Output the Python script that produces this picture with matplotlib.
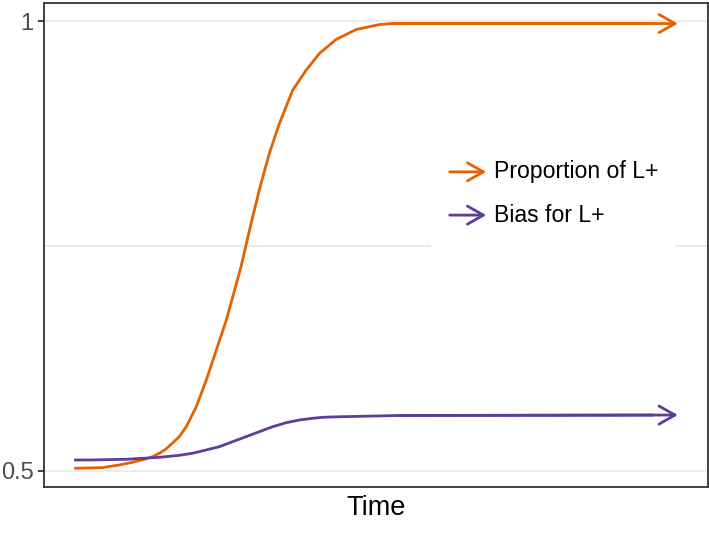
import matplotlib
matplotlib.use('Agg')
import matplotlib.pyplot as plt
from matplotlib.patches import Rectangle

plt.rcParams['font.family'] = ['Liberation Sans', 'DejaVu Sans']

# values (time is arbitrary, 0..100)
prop_time = [0, 4.64, 7.46, 9.67, 11.61, 12.98, 14.10, 15.21, 16.25, 17.41, 18.57,
             20.23, 21.89, 23.55, 25.21, 26.20, 27.64, 28.47, 29.57, 30.96, 32.34,
             34.00, 36.20, 38.43, 40.63, 43.40, 46.72, 50.58, 52.79, 100]
prop_val = [0.503, 0.5037, 0.5067, 0.5097, 0.513, 0.5159, 0.5197, 0.5244, 0.5308,
            0.5381, 0.5492, 0.5714, 0.6011, 0.6344, 0.6678, 0.6919, 0.727, 0.7511,
            0.7826, 0.8197, 0.853, 0.8863, 0.9233, 0.9456, 0.9641, 0.9797, 0.9908,
            0.9963, 0.9974, 0.9974]
bias_time = [0, 3.03, 8.57, 14.10, 17.41, 19.62, 24.05, 26.25, 28.47, 30.68, 32.89,
             35.11, 37.31, 39.52, 41.18, 43.95, 53.90, 100]
bias_val = [0.5122, 0.5123, 0.513, 0.5152, 0.5174, 0.5197, 0.527, 0.5326, 0.5381,
            0.5437, 0.5492, 0.5537, 0.5567, 0.5586, 0.5597, 0.5603, 0.5617, 0.5622]
series_names = ['Proportion of L+', 'Bias for L+']
colours = ['#e66101', '#5e3c99']
y_ticks = [0.5, 1.0]
y_ticklabels = ['0.5', '1']

fig = plt.figure(figsize=(7.09, 5.34), dpi=100)
ax = fig.add_axes([0.062, 0.088, 0.9366, 0.906])

lw = 2.0
arrow = '->,head_length=1.15,head_width=0.65'
for t, v, c in [(prop_time, prop_val, colours[0]), (bias_time, bias_val, colours[1])]:
  ax.plot(t[:-1] + [t[-1] - 4], v[:-1] + [v[-1]], color=c, lw=lw,
          solid_capstyle='butt', solid_joinstyle='round')
  ax.annotate('', xy=(t[-1], v[-1]), xytext=(t[-2], v[-2]),
              arrowprops=dict(arrowstyle=arrow, color=c, lw=lw, shrinkA=0, shrinkB=0))

# grid at 0.5, 0.75, 1
for g in [0.5, 0.75, 1.0]:
  ax.axhline(g, color='#ebebeb', lw=1.4, zorder=0)

ax.set_xlim(-5, 105)
ax.set_ylim(0.4822, 1.02)
ax.set_yticks(y_ticks)
ax.set_yticklabels(y_ticklabels)
ax.set_xticks([])
ax.tick_params(axis='y', length=4.5, width=1.3, color='#333333', labelsize=17,
               labelcolor='#4d4d4d', pad=3)
for s in ax.spines.values():
  s.set_color('#333333')
  s.set_linewidth(1.3)
ax.set_xlabel('Time', fontsize=19.5, labelpad=6)

# legend drawn by hand (arrow keys)
ax.add_patch(Rectangle((0.583, 0.47), 0.367, 0.26, transform=ax.transAxes,
                       facecolor='white', edgecolor='none', zorder=1))
for i, (name, c) in enumerate(zip(series_names, colours)):
  yy = 0.6514 - i * 0.0894
  ax.annotate('', xy=(0.666, yy), xytext=(0.611, yy), xycoords='axes fraction',
              arrowprops=dict(arrowstyle=arrow, color=c, lw=lw, shrinkA=0, shrinkB=0),
              zorder=2)
  ax.text(0.6777, yy, name, transform=ax.transAxes, fontsize=16.6, va='center', zorder=2)

fig.savefig('out.png', dpi=100)
